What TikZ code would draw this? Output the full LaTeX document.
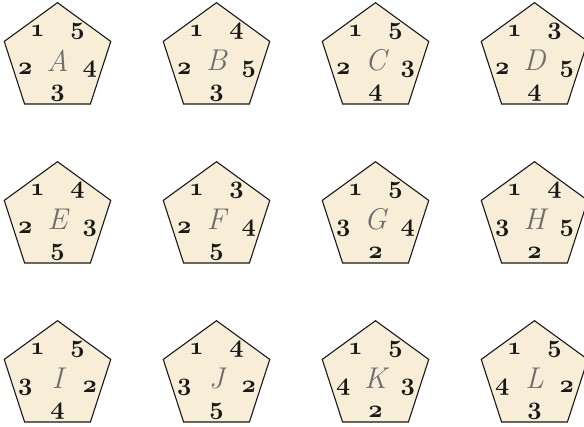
\documentclass[tikz,border=0pt]{standalone}
\usetikzlibrary{shapes.geometric,calc}
\definecolor{pfill}{HTML}{F8EED8}
\definecolor{letgray}{HTML}{6E6E6E}
\tikzset{
  pent/.style={regular polygon, regular polygon sides=5, draw=black!90, fill=pfill,
    line width=1.1pt, minimum size=112pt, inner sep=0pt, outer sep=0pt},
  letter/.style={font=\fontsize{30}{30}\selectfont\itshape, text=letgray, inner sep=0pt},
  digit/.style={font=\fontencoding{OML}\fontfamily{cmm}\fontseries{b}\fontshape{it}\fontsize{24.88}{25}\selectfont, text=black!90, inner sep=0pt}
}
\newcommand\penta[8]{%
  \node[pent] (#1) at (#2pt,#3pt) {};
  \node[letter] (#1L) at ($(#1.center)+(0,-2pt)$) {#4};
  \node[digit] (#1a) at ($(#1.center)+(126:34pt)$) {1};
  \node[digit] (#1b) at ($(#1.center)+(198:34pt)$) {#5};
  \node[digit] (#1c) at ($(#1.center)+(270:35pt)$) {#6};
  \node[digit] (#1d) at ($(#1.center)+(342:34pt)$) {#7};
  \node[digit] (#1e) at ($(#1.center)+(54:34pt)$) {#8};
}
\begin{document}
\begin{tikzpicture}
\useasboundingbox (0,0) rectangle (584pt,-426pt);
\clip (0,0) rectangle (584pt,-426pt);
\penta{A}{57.5}{-58.7}{A}{2}{3}{4}{5}
\penta{B}{216.5}{-58.7}{B}{2}{3}{5}{4}
\penta{C}{375.5}{-58.7}{C}{2}{4}{3}{5}
\penta{D}{534.5}{-58.7}{D}{2}{4}{5}{3}
\penta{E}{57.5}{-217.7}{E}{2}{5}{3}{4}
\penta{F}{216.5}{-217.7}{F}{2}{5}{4}{3}
\penta{G}{375.5}{-217.7}{G}{3}{2}{4}{5}
\penta{H}{534.5}{-217.7}{H}{3}{2}{5}{4}
\penta{I}{57.5}{-376.7}{I}{3}{4}{2}{5}
\penta{J}{216.5}{-376.7}{J}{3}{5}{2}{4}
\penta{K}{375.5}{-376.7}{K}{4}{2}{3}{5}
\penta{L}{534.5}{-376.7}{L}{4}{3}{2}{5}
\end{tikzpicture}
\end{document}
